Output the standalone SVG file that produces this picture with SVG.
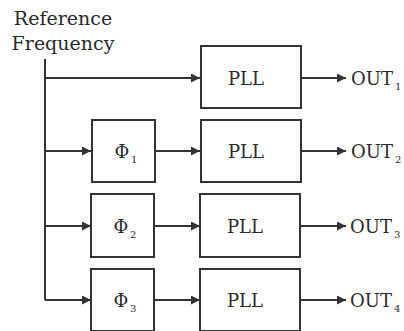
<svg xmlns="http://www.w3.org/2000/svg" width="404" height="331" viewBox="0 0 404 331">
<defs>
<style>
.box{fill:#fff;stroke:#333;stroke-width:2}
.ln{fill:none;stroke:#333;stroke-width:2}
.t{font-family:"DejaVu Serif","Liberation Serif",serif;font-size:18px;fill:#2a2a2a}
.r{font-size:19px}
.s{font-family:"DejaVu Serif","Liberation Serif",serif;font-size:10px;fill:#2a2a2a}
</style>
<marker id="ah" viewBox="0 0 10 10" refX="10" refY="5" markerWidth="9" markerHeight="9" markerUnits="userSpaceOnUse" orient="auto">
<path d="M0,0 L10,5 L0,10 z" fill="#333"/>
</marker>
</defs>
<rect width="404" height="331" fill="#fff"/>
<g id="label">
<text class="t r" x="63" y="25" text-anchor="middle">Reference</text>
<text class="t r" x="63" y="50" text-anchor="middle">Frequency</text>
</g>
<g id="connectors">
<path class="ln" d="M45,59 V300"/>
<path class="ln" d="M45,78 H200" marker-end="url(#ah)"/>
<path class="ln" d="M45,151 H91" marker-end="url(#ah)"/>
<path class="ln" d="M155,151 H200" marker-end="url(#ah)"/>
<path class="ln" d="M45,226 H91" marker-end="url(#ah)"/>
<path class="ln" d="M154,226 H200" marker-end="url(#ah)"/>
<path class="ln" d="M45,300 H91" marker-end="url(#ah)"/>
<path class="ln" d="M154,300 H200" marker-end="url(#ah)"/>
<path class="ln" d="M301,78 H346" marker-end="url(#ah)"/>
<path class="ln" d="M301,151 H346" marker-end="url(#ah)"/>
<path class="ln" d="M300,226 H346" marker-end="url(#ah)"/>
<path class="ln" d="M300,300 H346" marker-end="url(#ah)"/>
</g>
<g id="pll1">
<rect class="box" x="201" y="46" width="100" height="62"/>
<text class="t" x="246" y="85" text-anchor="middle">PLL</text>
</g>
<g id="phi1">
<rect class="box" x="92" y="120" width="63" height="62"/>
<text class="t" x="122" y="158" text-anchor="middle">Φ</text><text class="s" x="131" y="163">1</text>
</g>
<g id="pll2">
<rect class="box" x="201" y="120" width="100" height="62"/>
<text class="t" x="246" y="158" text-anchor="middle">PLL</text>
</g>
<g id="phi2">
<rect class="box" x="91" y="194" width="63" height="63"/>
<text class="t" x="121" y="233" text-anchor="middle">Φ</text><text class="s" x="130" y="238">2</text>
</g>
<g id="pll3">
<rect class="box" x="200" y="194" width="100" height="63"/>
<text class="t" x="245" y="233" text-anchor="middle">PLL</text>
</g>
<g id="phi3">
<rect class="box" x="91" y="269" width="63" height="62"/>
<text class="t" x="121" y="307" text-anchor="middle">Φ</text><text class="s" x="130" y="312">3</text>
</g>
<g id="pll4">
<rect class="box" x="200" y="269" width="100" height="62"/>
<text class="t" x="245" y="307" text-anchor="middle">PLL</text>
</g>
<g id="out1"><text class="t" x="351" y="85">OUT</text><text class="s" x="395" y="90">1</text></g>
<g id="out2"><text class="t" x="351" y="158">OUT</text><text class="s" x="395" y="163">2</text></g>
<g id="out3"><text class="t" x="350" y="233">OUT</text><text class="s" x="394" y="238">3</text></g>
<g id="out4"><text class="t" x="350" y="307">OUT</text><text class="s" x="394" y="312">4</text></g>
</svg>
